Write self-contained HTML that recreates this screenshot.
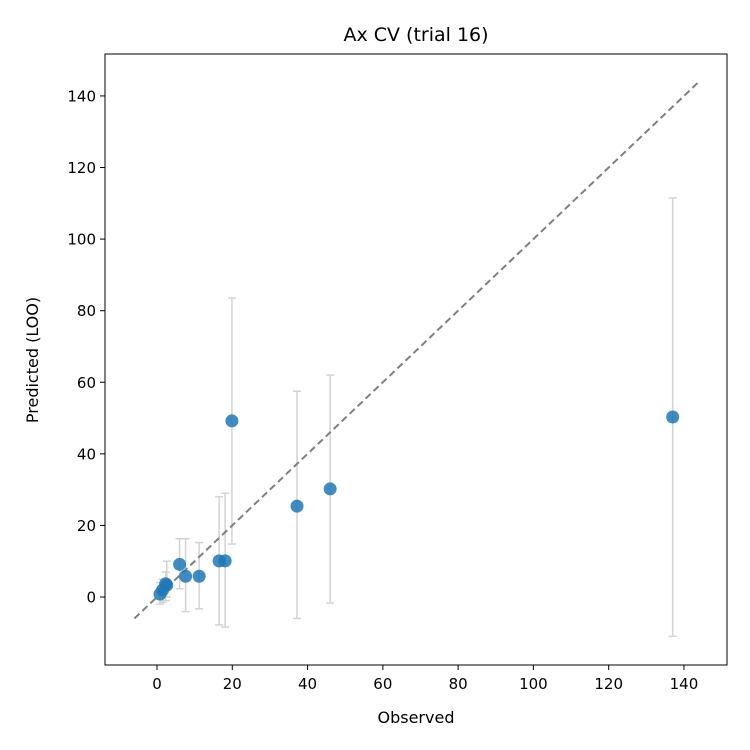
<!DOCTYPE html>
<html><head><meta charset="utf-8"><style>body{margin:0;background:#fff}svg{display:block;font-family:"DejaVu Sans","Liberation Sans",sans-serif}</style></head>
<body>
<svg id="chart" width="750" height="750">
<rect x="0" y="0" width="750" height="750" fill="#fff"/>
<text x="416" y="41" font-size="19" text-anchor="middle">Ax CV (trial 16)</text>
<g id="errs"></g>
<line id="diag" stroke="#808080" stroke-width="2" stroke-dasharray="7,4"/>
<g id="pts"></g>
<rect x="105" y="54" width="622" height="611" fill="none" stroke="#000" stroke-width="1"/>
<g id="axes"></g>
<text x="416" y="723" font-size="16" text-anchor="middle">Observed</text>
<text transform="translate(38,360) rotate(-90)" font-size="16" text-anchor="middle">Predicted (LOO)</text>
</svg>
<script>
const observed=[0.8,1.5,2.3,2.6,6.0,7.6,11.2,16.5,18.1,19.9,37.2,46.0,137.0];
const predicted=[0.8,2.0,3.7,3.3,9.1,5.8,5.8,10.1,10.1,49.2,25.4,30.2,50.3];
const errLow=[-2,-1.5,-1,0,2.3,-4.1,-3.3,-7.8,-8.4,14.8,-6,-1.7,-11];
const errHigh=[4,5,7,10,16.3,16.3,15.2,28,29,83.5,57.5,62,111.5];
const xTicks=[0,20,40,60,80,100,120,140];
const yTicks=[0,20,40,60,80,100,120,140];
const diagRange=[-6,144];
const X=v=>157+v*3.764, Y=v=>597-v*3.579;
const NS="http://www.w3.org/2000/svg";
function mk(t,a,p){const e=document.createElementNS(NS,t);for(const k in a)e.setAttribute(k,a[k]);p.appendChild(e);return e;}
const ax=document.getElementById('axes');
xTicks.forEach(t=>{
 const l=mk('line',{x1:X(t),x2:X(t),y1:665,y2:670,stroke:'#000'},ax);
 
 
 const tx=mk('text',{x:X(t),y:689,'font-size':15,'text-anchor':'middle'},ax);tx.textContent=t;
 
 
});
yTicks.forEach(t=>{
 const l=mk('line',{x1:100,x2:105,y1:Y(t),y2:Y(t),stroke:'#000'},ax);
 
 
 const tx=mk('text',{x:96,y:Y(t)+5.5,'font-size':15,'text-anchor':'end'},ax);tx.textContent=t;
 
 
});
const d=document.getElementById('diag');
d.setAttribute('x1',X(diagRange[0]));d.setAttribute('y1',Y(diagRange[0]));
d.setAttribute('x2',X(diagRange[1]));d.setAttribute('y2',Y(diagRange[1]));
const eg=document.getElementById('errs'),pg=document.getElementById('pts');
observed.forEach((o,i)=>{
 const g=mk('g',{stroke:'#d3d3d3','stroke-width':1.5},eg);
 
 
 mk('line',{x1:X(o),x2:X(o),y1:Y(errLow[i]),y2:Y(errHigh[i])},g);
 mk('line',{x1:X(o)-4,x2:X(o)+4,y1:Y(errLow[i]),y2:Y(errLow[i])},g);
 mk('line',{x1:X(o)-4,x2:X(o)+4,y1:Y(errHigh[i]),y2:Y(errHigh[i])},g);
 const c=mk('circle',{cx:X(o),cy:Y(predicted[i]),r:6.5,fill:'#1f77b4','fill-opacity':0.85},pg);
 
 
});
</script>
</body></html>
